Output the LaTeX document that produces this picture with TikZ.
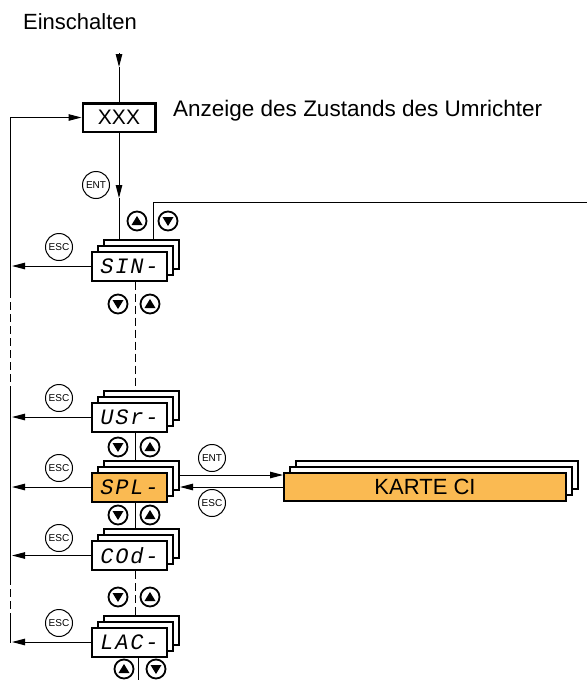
\documentclass[tikz,border=0pt]{standalone}
\usepackage{fontspec}
\setmainfont{Liberation Sans}
\newfontfamily\segfont{Liberation Mono}
\usetikzlibrary{arrows.meta}
\definecolor{cardorange}{RGB}{250,186,82}
\newcommand{\segs}[4]{\makebox[15pt]{#1}\makebox[15pt]{#2}\makebox[15pt]{#3}\makebox[15pt]{#4}}
\newcommand{\dispcard}[5]{%
  \node[card] (#1b) at (#2+12,#3-12) {};
  \node[card] (#1m) at (#2+6,#3-6) {};
  \node[card,fill=#4,font=\segfont\itshape\fontsize{22}{22}\selectfont] (#1) at (#2,#3) {#5};}
\begin{document}
\begin{tikzpicture}[x=1pt,y=-1pt,
  conn/.style={line width=1pt},
  arr/.style={line width=1pt,-{Triangle[length=13pt,width=6.5pt]}},
  dashline/.style={line width=1pt,dash pattern=on 8pt off 4pt},
  card/.style={draw,line width=2pt,fill=white,minimum width=75pt,minimum height=29pt,inner sep=0pt},
  kcard/.style={draw,line width=2pt,fill=white,minimum width=282pt,minimum height=28pt,inner sep=0pt},
  keybtn/.style={circle,draw,line width=1pt,minimum size=27pt,inner sep=0pt,font=\fontsize{10}{10}\selectfont},
  btn/.style={circle,draw,line width=1.8pt,minimum size=19pt,inner sep=0pt},
  upbtn/.style={btn,path picture={\fill ([yshift=5pt]path picture bounding box.center) -- ++(-5.5pt,-9pt) -- ++(11pt,0pt) -- cycle;}},
  downbtn/.style={btn,path picture={\fill ([yshift=-5pt]path picture bounding box.center) -- ++(-5.5pt,9pt) -- ++(11pt,0pt) -- cycle;}}
]
\useasboundingbox (0,0) rectangle (587,680);

% texts and top box
\node[anchor=base,inner sep=0pt,font=\fontsize{22}{26}\selectfont] (ein) at (80,29) {Einschalten};
\node[draw,line width=2.5pt,minimum width=72.5pt,minimum height=28.5pt,inner sep=0pt,font=\fontsize{21}{21}\selectfont] (xxx) at (119,117.5) {XXX};
\node[anchor=base west,inner sep=0pt,font=\fontsize{22.5}{26}\selectfont] (anz) at (173,116) {Anzeige des Zustands des Umrichter};

% display stacks
\dispcard{sin}{129.5}{266}{white}{\segs{S}{I}{N}{-}}
\dispcard{usr}{129.5}{417}{white}{\segs{U}{S}{r}{-}}
\dispcard{spl}{129.5}{487}{cardorange}{\segs{S}{P}{L}{-}}
\dispcard{cod}{129.5}{555.5}{white}{\segs{C}{O}{d}{-}}
\dispcard{lac}{129.5}{642}{white}{\segs{L}{A}{C}{-}}

% KARTE CI stack
\node[kcard] (kb) at (437,475) {};
\node[kcard] (km) at (431,481) {};
\node[kcard,fill=cardorange,font=\fontsize{22}{22}\selectfont] (karte) at (425,487) {KARTE CI};

% coordinates
\coordinate (pw) at (119,53);
\coordinate (pwt) at (119,67);
\coordinate (et) at (119,198);
\coordinate (rc) at (153,202);
\coordinate (re) at (587,202);
\coordinate (cx) at (135,0);
\coordinate (bot) at (138,680);
\coordinate (lx) at (12,0);
\coordinate (l0) at (10,117.5);
\coordinate (l1) at (10,290);
\coordinate (l2) at (10,392);
\coordinate (l3) at (10,577);
\coordinate (l4) at (10,613);
\coordinate (l5) at (10,643);

% top connectors
\draw[arr] (pw) -- (pwt);
\draw[conn] (pwt) -- (xxx.north);
\draw[arr] (xxx.south) -- (et);
\draw[conn] (et) -- (sinb.north -| et);
\draw[conn] (sinb.north -| rc) -- (rc) -- (re);

% left return line
\draw[arr] (l1) -- (l0) -- (xxx.west);
\draw[dashline] (l1) -- (l2);
\draw[conn] (l2) -- (l3);
\draw[dashline] (l3) -- (l4);
\draw[conn] (l4) -- (l5);

% ESC arrows
\draw[arr] (sin.west) -- (sin.west -| lx);
\draw[arr] (usr.west) -- (usr.west -| lx);
\draw[arr] (spl.west) -- (spl.west -| lx);
\draw[arr] (cod.west) -- (cod.west -| lx);
\draw[arr] (lac.west) -- (lac.west -| lx);

% center line
\draw[dashline] (sin.south -| cx) -- (usrb.north -| cx);
\draw[conn] (usr.south -| cx) -- (splb.north -| cx);
\draw[conn] (spl.south -| cx) -- (codb.north -| cx);
\draw[dashline] (cod.south -| cx) -- (lacb.north -| cx);
\draw[conn] (lac.south -| bot) -- (bot);

% SPL <-> KARTE
\draw[arr] (splb.east) -- (splb.east -| karte.west);
\draw[arr] (karte.west) -- (karte.west -| splb.east);

% ENT / ESC keys
\node[keybtn] (ent1) at (96,185) {ENT};
\node[keybtn] (esc1) at (59,247) {ESC};
\node[keybtn] (esc2) at (59,398) {ESC};
\node[keybtn] (esc3) at (59,468) {ESC};
\node[keybtn] (esc4) at (59,538) {ESC};
\node[keybtn] (esc5) at (59,623) {ESC};
\node[keybtn] (ent2) at (212,458) {ENT};
\node[keybtn] (esc6) at (212,503) {ESC};

% arrow buttons
\node[upbtn] (u0) at (137,221) {};
\node[downbtn] (d0) at (168,221) {};
\node[downbtn] (d1) at (118,304) {};
\node[upbtn] (u1) at (150,304) {};
\node[downbtn] (d2) at (118,447) {};
\node[upbtn] (u2) at (150,447) {};
\node[downbtn] (d3) at (118,515) {};
\node[upbtn] (u3) at (150,515) {};
\node[downbtn] (d4) at (118,597) {};
\node[upbtn] (u4) at (150,597) {};
\node[upbtn] (u5) at (124,669) {};
\node[downbtn] (d5) at (156,669) {};
\end{tikzpicture}
\end{document}
